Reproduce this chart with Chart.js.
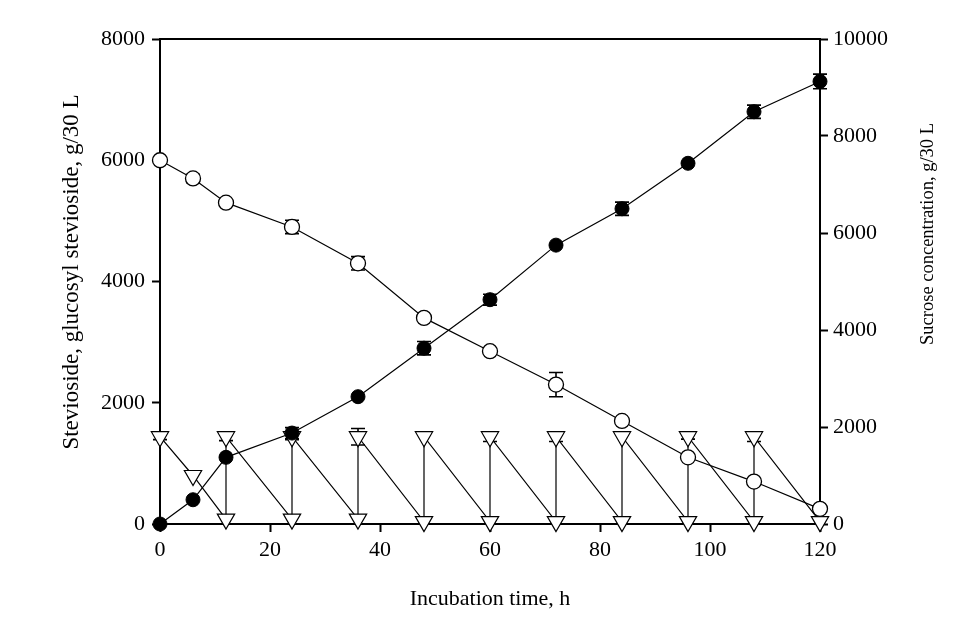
<!DOCTYPE html>
<html>
<head>
<meta charset="utf-8">
<script src="https://cdn.jsdelivr.net/npm/chart.js@4/dist/chart.umd.min.js"></script>
<style>
  html, body { margin: 0; padding: 0; background: #fff; }
  #wrap { width: 963px; height: 619px; }
</style>
</head>
<body>
<div id="wrap"><canvas id="myChart"></canvas></div>
<script>
// incubation time (h) and the two stevioside series, left axis
var timeH = [0, 6, 12, 24, 36, 48, 60, 72, 84, 96, 108, 120];
var glucosylSte = [0, 400, 1100, 1500, 2100, 2900, 3700, 4600, 5200, 5950, 6800, 7300];
var glucosylErr = [0, 0, 0, 90, 0, 110, 90, 0, 110, 0, 110, 120];
var stevioside = [6000, 5700, 5300, 4900, 4300, 3400, 2850, 2300, 1700, 1100, 700, 250];
var steviosideErr = [0, 70, 0, 110, 110, 0, 0, 200, 0, 0, 0, 0];

// sucrose feeding (right axis), saw-tooth with repeated feed times
var sucroseTime = [0, 6, 12, 12, 24, 24, 36, 36, 48, 48, 60, 60, 72, 72, 84, 84, 96, 96, 108, 108, 120];
var sucrose = [1800, 1000, 100, 1800, 100, 1800, 100, 1800, 50, 1800, 50, 1800, 50, 1800, 50, 1800, 50, 1800, 50, 1800, 50];
var sucroseErr = [60, 0, 0, 80, 0, 60, 0, 170, 0, 0, 0, 100, 0, 100, 0, 0, 0, 50, 0, 100, 0];

var xTicks = [0, 20, 40, 60, 80, 100, 120];
var leftTicks = [0, 2000, 4000, 6000, 8000];
var rightTicks = [0, 2000, 4000, 6000, 8000, 10000];

function pts(xs, ys) {
  var out = [];
  for (var i = 0; i < xs.length; i++) out.push({x: xs[i], y: ys[i]});
  return out;
}
function plain(v) { return String(v); }

var serif = "'Liberation Serif', 'Times New Roman', serif";

function vTitle(ctx, text, x, y, size) {
  ctx.save();
  ctx.translate(x, y);
  ctx.rotate(-Math.PI / 2);
  ctx.fillStyle = '#000';
  ctx.font = size + 'px ' + serif;
  ctx.textAlign = 'center';
  ctx.textBaseline = 'middle';
  ctx.fillText(text, 0, 0);
  ctx.restore();
}

var errorBars = {
  id: 'errorBars',
  beforeDatasetsDraw: function(chart) {
    var ctx = chart.ctx;
    var errs = [glucosylErr, steviosideErr, sucroseErr];
    var vals = [glucosylSte, stevioside, sucrose];
    ctx.save();
    ctx.strokeStyle = '#000';
    ctx.lineWidth = 1.6;
    for (var d = 0; d < 3; d++) {
      var meta = chart.getDatasetMeta(d);
      var scale = chart.scales[meta.yAxisID];
      for (var i = 0; i < errs[d].length; i++) {
        if (!errs[d][i]) continue;
        var px = meta.data[i].x;
        var y1 = scale.getPixelForValue(vals[d][i] + errs[d][i]);
        var y2 = scale.getPixelForValue(vals[d][i] - errs[d][i]);
        ctx.beginPath();
        ctx.moveTo(px, y1); ctx.lineTo(px, y2);
        ctx.moveTo(px - 7, y1); ctx.lineTo(px + 7, y1);
        ctx.moveTo(px - 7, y2); ctx.lineTo(px + 7, y2);
        ctx.stroke();
      }
    }
    ctx.restore();
  },
  afterDraw: function(chart) {
    var a = chart.chartArea;
    var ctx = chart.ctx;
    ctx.save();
    ctx.strokeStyle = '#000';
    ctx.lineWidth = 2;
    ctx.beginPath();
    ctx.moveTo(a.left, a.top); ctx.lineTo(a.right, a.top);
    ctx.stroke();
    ctx.restore();
    // both axis titles read bottom to top
    vTitle(ctx, 'Stevioside, glucosyl stevioside, g/30 L', 72, 272, 23);
    vTitle(ctx, 'Sucrose concentration, g/30 L', 928, 234, 18.5);
  }
};

var ctx = document.getElementById('myChart');
new Chart(ctx, {
  type: 'line',
  data: {
    datasets: [
      {
        label: 'Glucosyl stevioside',
        data: pts(timeH, glucosylSte),
        yAxisID: 'y',
        borderColor: '#000',
        borderWidth: 1.2,
        backgroundColor: '#000',
        pointBackgroundColor: '#000',
        pointBorderColor: '#000',
        pointRadius: 7,
        pointBorderWidth: 1,
        fill: false,
        clip: false,
        tension: 0
      },
      {
        label: 'Stevioside',
        data: pts(timeH, stevioside),
        yAxisID: 'y',
        borderColor: '#000',
        borderWidth: 1.2,
        backgroundColor: '#fff',
        pointBackgroundColor: '#fff',
        pointBorderColor: '#000',
        pointRadius: 7.5,
        pointBorderWidth: 1.3,
        fill: false,
        clip: false,
        tension: 0
      },
      {
        label: 'Sucrose',
        data: pts(sucroseTime, sucrose),
        yAxisID: 'y2',
        borderColor: '#000',
        borderWidth: 1.2,
        backgroundColor: '#fff',
        pointBackgroundColor: '#fff',
        pointBorderColor: '#000',
        pointStyle: 'triangle',
        pointRotation: 180,
        pointRadius: 10,
        pointBorderWidth: 1.2,
        fill: false,
        clip: false,
        tension: 0
      }
    ]
  },
  options: {
    responsive: true,
    maintainAspectRatio: false,
    animation: false,
    layout: { padding: { top: 39, left: 0, right: 0, bottom: 0 } },
    plugins: { legend: { display: false }, tooltip: { enabled: false } },
    scales: {
      x: {
        type: 'linear',
        min: 0, max: 120,
        afterFit: function(s) { s.height = 95; },
        afterBuildTicks: function(s) { s.ticks = xTicks.map(function(v) { return {value: v}; }); },
        ticks: { color: '#000', font: { family: serif, size: 22 }, padding: 5, maxRotation: 0, callback: plain },
        grid: { drawOnChartArea: false, drawTicks: true, tickLength: 8, color: '#000', tickWidth: 2 },
        border: { display: true, color: '#000', width: 2 },
        title: { display: true, text: 'Incubation time, h', color: '#000', font: { family: serif, size: 22 }, padding: { top: 0, bottom: 7 } }
      },
      y: {
        position: 'left',
        min: 0, max: 8000,
        afterFit: function(s) { s.width = 160; },
        afterBuildTicks: function(s) { s.ticks = leftTicks.map(function(v) { return {value: v}; }); },
        ticks: { color: '#000', font: { family: serif, size: 22 }, padding: 7, callback: plain },
        grid: { drawOnChartArea: false, drawTicks: true, tickLength: 8, color: '#000', tickWidth: 2 },
        border: { display: true, color: '#000', width: 2 }
      },
      y2: {
        position: 'right',
        min: 0, max: 10000,
        afterFit: function(s) { s.width = 143; },
        afterBuildTicks: function(s) { s.ticks = rightTicks.map(function(v) { return {value: v}; }); },
        ticks: { color: '#000', font: { family: serif, size: 22 }, padding: 5, callback: plain },
        grid: { drawOnChartArea: false, drawTicks: true, tickLength: 8, color: '#000', tickWidth: 2 },
        border: { display: true, color: '#000', width: 2 }
      }
    }
  },
  plugins: [errorBars]
});
</script>
</body>
</html>
